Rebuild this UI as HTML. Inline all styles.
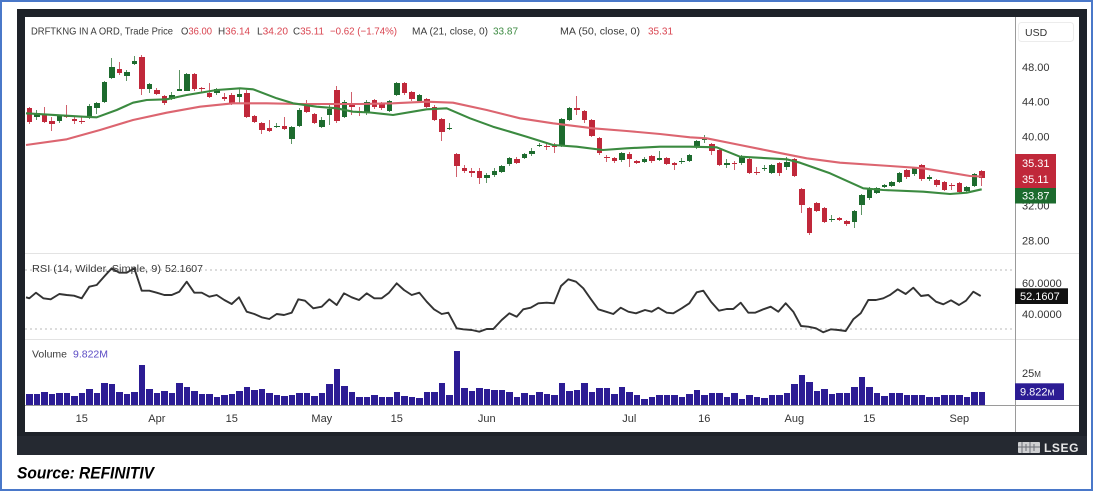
<!DOCTYPE html>
<html><head><meta charset="utf-8"><style>
body{margin:0;width:1094px;height:492px;position:relative;overflow:hidden;background:#fff;font-family:"Liberation Sans",sans-serif}
.bx{position:absolute;left:0;top:0;width:1093px;height:491px;box-sizing:border-box;border:2px solid #4a78c9}
.fr{position:absolute;left:17px;top:9px;width:1070px;height:446px;background:#1e2229}
.fr2{position:absolute;left:17px;top:436px;width:1070px;height:19px;background:#252931}
.wh{position:absolute;left:25px;top:17px;width:1054px;height:415px;background:#fff}
#cd{position:absolute;left:25.55px;top:0;display:flex;height:250px}
.c{position:relative;width:7.5px;flex:none;height:250px;display:block}
.c::before{content:"";position:absolute;left:3.15px;width:1.2px;top:calc(var(--c)*1px);height:calc((var(--d) - var(--c))*1px);background:var(--w)}
.c::after{content:"";position:absolute;left:1px;width:5.5px;top:calc(var(--a)*1px);height:max(1.4px,calc((var(--b) - var(--a))*1px));background:var(--k)}
.r{--k:#c0283a;--w:#d0606c}
.g{--k:#1d6b2e;--w:#5c9464}
#vb{position:absolute;left:25.55px;top:339px;height:66px;display:flex;align-items:flex-end}
#vb i{display:block;flex:none;width:6.5px;margin:0 .5px;background:#2c1c94}
svg{position:absolute;left:0;top:0}
</style></head><body>
<div class="bx"></div>
<div class="fr"></div>
<div class="fr2"></div>
<div class="wh"></div>
<div id="cd">
<i class="c r" style="--a:108.3;--b:121.7;--c:106.5;--d:123.5"></i>
<i class="c g" style="--a:113.3;--b:117.3;--c:110;--d:120"></i>
<i class="c r" style="--a:114;--b:121.7;--c:107;--d:123"></i>
<i class="c r" style="--a:121;--b:124;--c:117;--d:130.7"></i>
<i class="c g" style="--a:116;--b:121;--c:115;--d:123"></i>
<i class="c r" style="--a:115.3;--b:116.7;--c:105;--d:117.5"></i>
<i class="c r" style="--a:119.3;--b:120.3;--c:116;--d:124"></i>
<i class="c r" style="--a:120.7;--b:122.3;--c:117;--d:123.5"></i>
<i class="c g" style="--a:106;--b:117.3;--c:104;--d:118.7"></i>
<i class="c g" style="--a:103.3;--b:108.3;--c:101.7;--d:114"></i>
<i class="c g" style="--a:81.7;--b:101.7;--c:80.7;--d:102.7"></i>
<i class="c g" style="--a:67.3;--b:78.3;--c:58;--d:79"></i>
<i class="c r" style="--a:69.3;--b:73.3;--c:61.7;--d:75"></i>
<i class="c g" style="--a:72.3;--b:75.7;--c:70;--d:80.7"></i>
<i class="c g" style="--a:61;--b:64.3;--c:56;--d:65"></i>
<i class="c r" style="--a:56.7;--b:89.3;--c:55;--d:95"></i>
<i class="c g" style="--a:84.3;--b:89.3;--c:82.7;--d:93.3"></i>
<i class="c r" style="--a:90;--b:94;--c:88.3;--d:95"></i>
<i class="c r" style="--a:96;--b:102.7;--c:95;--d:105"></i>
<i class="c g" style="--a:95;--b:99.3;--c:91.7;--d:100"></i>
<i class="c g" style="--a:89.3;--b:90.3;--c:70;--d:90.7"></i>
<i class="c g" style="--a:74;--b:90.7;--c:73;--d:91"></i>
<i class="c r" style="--a:74;--b:89.3;--c:73.3;--d:90.7"></i>
<i class="c r" style="--a:87.7;--b:89;--c:86.7;--d:93.3"></i>
<i class="c r" style="--a:92.7;--b:97.3;--c:83.3;--d:98.3"></i>
<i class="c g" style="--a:89.3;--b:93.3;--c:87.7;--d:95"></i>
<i class="c r" style="--a:96.7;--b:98.7;--c:93.3;--d:100.7"></i>
<i class="c r" style="--a:95;--b:104;--c:93.3;--d:105"></i>
<i class="c g" style="--a:94;--b:97.3;--c:88.3;--d:104"></i>
<i class="c r" style="--a:92.7;--b:117.3;--c:90;--d:118.3"></i>
<i class="c r" style="--a:116;--b:121.7;--c:115;--d:123.3"></i>
<i class="c r" style="--a:122.7;--b:130;--c:121.7;--d:134"></i>
<i class="c r" style="--a:128.3;--b:130.7;--c:120;--d:131.7"></i>
<i class="c g" style="--a:126;--b:127;--c:122.7;--d:128.3"></i>
<i class="c r" style="--a:126;--b:129.3;--c:117.3;--d:130"></i>
<i class="c g" style="--a:127.3;--b:139;--c:126;--d:144"></i>
<i class="c g" style="--a:110;--b:126;--c:108.3;--d:126.7"></i>
<i class="c r" style="--a:105;--b:111.7;--c:100;--d:112.7"></i>
<i class="c r" style="--a:114;--b:122.7;--c:112.7;--d:124"></i>
<i class="c g" style="--a:120;--b:127.3;--c:116.7;--d:128.3"></i>
<i class="c g" style="--a:109.3;--b:115;--c:105;--d:125"></i>
<i class="c r" style="--a:90;--b:120.7;--c:86;--d:123.3"></i>
<i class="c g" style="--a:101.7;--b:117.3;--c:100;--d:118.3"></i>
<i class="c r" style="--a:103.3;--b:107.3;--c:91.7;--d:115"></i>
<i class="c r" style="--a:110.7;--b:112.7;--c:106.7;--d:116"></i>
<i class="c g" style="--a:101.7;--b:113.3;--c:100;--d:114.5"></i>
<i class="c r" style="--a:100;--b:107.3;--c:98.5;--d:108.5"></i>
<i class="c r" style="--a:104;--b:108.3;--c:102;--d:110"></i>
<i class="c g" style="--a:101;--b:110.7;--c:100;--d:112"></i>
<i class="c g" style="--a:83.3;--b:95;--c:82;--d:96"></i>
<i class="c r" style="--a:83.3;--b:93.3;--c:82;--d:94.5"></i>
<i class="c r" style="--a:91.7;--b:99.3;--c:90.5;--d:100.5"></i>
<i class="c g" style="--a:95;--b:100.7;--c:93.5;--d:102"></i>
<i class="c r" style="--a:99.3;--b:106.7;--c:98;--d:108"></i>
<i class="c r" style="--a:106.7;--b:120;--c:105;--d:121"></i>
<i class="c r" style="--a:119.3;--b:131.7;--c:118;--d:141"></i>
<i class="c g" style="--a:127.8;--b:129;--c:122.7;--d:130"></i>
<i class="c r" style="--a:154.3;--b:166;--c:153;--d:176.7"></i>
<i class="c r" style="--a:168.3;--b:170.7;--c:165;--d:173.3"></i>
<i class="c r" style="--a:171.2;--b:172.2;--c:168.3;--d:176.7"></i>
<i class="c r" style="--a:170.7;--b:178.3;--c:168;--d:184"></i>
<i class="c g" style="--a:175;--b:178.3;--c:173.3;--d:182.7"></i>
<i class="c g" style="--a:171;--b:175;--c:168.3;--d:176.7"></i>
<i class="c g" style="--a:165.7;--b:172.3;--c:164.5;--d:173.3"></i>
<i class="c g" style="--a:157.7;--b:164.3;--c:156.5;--d:165.5"></i>
<i class="c r" style="--a:158.7;--b:162.7;--c:157;--d:164"></i>
<i class="c g" style="--a:154;--b:157.7;--c:152.5;--d:159"></i>
<i class="c g" style="--a:151;--b:154.3;--c:148;--d:155.5"></i>
<i class="c g" style="--a:144.5;--b:145.5;--c:143.3;--d:147.3"></i>
<i class="c r" style="--a:145.5;--b:146.5;--c:143.3;--d:150"></i>
<i class="c r" style="--a:145.7;--b:147.3;--c:143.3;--d:153.3"></i>
<i class="c g" style="--a:119.3;--b:146;--c:118;--d:147"></i>
<i class="c g" style="--a:108.3;--b:120;--c:107;--d:121"></i>
<i class="c r" style="--a:108.3;--b:110;--c:96;--d:115"></i>
<i class="c r" style="--a:111;--b:120;--c:110;--d:123.3"></i>
<i class="c r" style="--a:120;--b:136;--c:119;--d:137.3"></i>
<i class="c r" style="--a:138.3;--b:153.3;--c:137;--d:154.5"></i>
<i class="c r" style="--a:156.8;--b:157.8;--c:155;--d:161.7"></i>
<i class="c r" style="--a:158.3;--b:161;--c:157;--d:162.5"></i>
<i class="c g" style="--a:152.7;--b:160;--c:151.5;--d:161.5"></i>
<i class="c r" style="--a:154;--b:159.3;--c:151.7;--d:166.7"></i>
<i class="c r" style="--a:161;--b:162.7;--c:159.5;--d:164"></i>
<i class="c g" style="--a:158.7;--b:161.7;--c:157;--d:163"></i>
<i class="c r" style="--a:155.7;--b:161;--c:154.5;--d:162.5"></i>
<i class="c g" style="--a:158.3;--b:160;--c:150.7;--d:161"></i>
<i class="c r" style="--a:158.3;--b:164;--c:157;--d:165"></i>
<i class="c r" style="--a:163.3;--b:165.3;--c:161.7;--d:170"></i>
<i class="c g" style="--a:160.7;--b:162;--c:158.3;--d:164"></i>
<i class="c g" style="--a:155;--b:160.7;--c:153.5;--d:162"></i>
<i class="c g" style="--a:141;--b:147;--c:139.5;--d:148.5"></i>
<i class="c g" style="--a:138.3;--b:140;--c:135;--d:143.3"></i>
<i class="c r" style="--a:144;--b:150.7;--c:142.5;--d:155"></i>
<i class="c r" style="--a:150;--b:165;--c:149;--d:166"></i>
<i class="c g" style="--a:163.3;--b:165;--c:159.3;--d:168.3"></i>
<i class="c r" style="--a:163;--b:164;--c:160.7;--d:170"></i>
<i class="c g" style="--a:156;--b:163.3;--c:154.5;--d:164.5"></i>
<i class="c r" style="--a:159.3;--b:172.7;--c:158;--d:174"></i>
<i class="c r" style="--a:171.7;--b:172.7;--c:166.7;--d:175"></i>
<i class="c g" style="--a:167.8;--b:168.8;--c:165;--d:170.5"></i>
<i class="c g" style="--a:165;--b:172.7;--c:163.5;--d:174"></i>
<i class="c r" style="--a:163.3;--b:172.7;--c:162;--d:176"></i>
<i class="c g" style="--a:161.7;--b:166.7;--c:156.7;--d:170"></i>
<i class="c r" style="--a:159.3;--b:176;--c:158;--d:177"></i>
<i class="c r" style="--a:189.3;--b:205;--c:188;--d:213"></i>
<i class="c r" style="--a:208.3;--b:233.3;--c:207;--d:234.5"></i>
<i class="c r" style="--a:203.3;--b:210.7;--c:202;--d:212"></i>
<i class="c r" style="--a:208.3;--b:221.7;--c:207;--d:223"></i>
<i class="c g" style="--a:218.5;--b:219.5;--c:215;--d:221.7"></i>
<i class="c r" style="--a:218.3;--b:220;--c:216.7;--d:221.5"></i>
<i class="c r" style="--a:220.7;--b:224.3;--c:219.5;--d:225.5"></i>
<i class="c g" style="--a:210.7;--b:221.7;--c:209.5;--d:228"></i>
<i class="c g" style="--a:195;--b:205;--c:194;--d:215"></i>
<i class="c g" style="--a:188.3;--b:198.3;--c:187;--d:199.5"></i>
<i class="c g" style="--a:187.7;--b:192.7;--c:186.5;--d:194"></i>
<i class="c g" style="--a:185;--b:186.7;--c:183.5;--d:188"></i>
<i class="c g" style="--a:181.7;--b:186;--c:180.5;--d:187"></i>
<i class="c g" style="--a:172.7;--b:181.7;--c:171.5;--d:183"></i>
<i class="c r" style="--a:170;--b:177.3;--c:168.5;--d:178.5"></i>
<i class="c g" style="--a:168.3;--b:174;--c:167;--d:175.5"></i>
<i class="c r" style="--a:165;--b:179.3;--c:164;--d:180.5"></i>
<i class="c g" style="--a:177.2;--b:178.2;--c:175;--d:180.7"></i>
<i class="c r" style="--a:180;--b:185;--c:178.5;--d:186.5"></i>
<i class="c r" style="--a:181.7;--b:190;--c:180.5;--d:191"></i>
<i class="c r" style="--a:185;--b:186;--c:183.3;--d:190"></i>
<i class="c r" style="--a:183.3;--b:191.7;--c:182;--d:193"></i>
<i class="c g" style="--a:186.7;--b:190.7;--c:185.5;--d:192"></i>
<i class="c g" style="--a:174;--b:186;--c:173;--d:187"></i>
<i class="c r" style="--a:170.8;--b:178.5;--c:169.6;--d:186.4"></i>
</div>
<div id="vb">
<i style="height:11px"></i><i style="height:11px"></i><i style="height:13.3px"></i><i style="height:11px"></i><i style="height:11.7px"></i><i style="height:11.7px"></i><i style="height:9px"></i><i style="height:12.3px"></i><i style="height:16px"></i><i style="height:11.7px"></i>
<i style="height:21.7px"></i><i style="height:20.7px"></i><i style="height:13.3px"></i><i style="height:11px"></i><i style="height:13.3px"></i><i style="height:40px"></i><i style="height:16px"></i><i style="height:11.7px"></i><i style="height:14.3px"></i><i style="height:11.7px"></i>
<i style="height:22.3px"></i><i style="height:18.3px"></i><i style="height:14.3px"></i><i style="height:11px"></i><i style="height:11px"></i><i style="height:7.7px"></i><i style="height:10px"></i><i style="height:11px"></i><i style="height:14.3px"></i><i style="height:18.3px"></i>
<i style="height:15px"></i><i style="height:16px"></i><i style="height:11.7px"></i><i style="height:10px"></i><i style="height:9.5px"></i><i style="height:10px"></i><i style="height:12.3px"></i><i style="height:12.3px"></i><i style="height:9px"></i><i style="height:12.3px"></i>
<i style="height:20.7px"></i><i style="height:35.7px"></i><i style="height:19px"></i><i style="height:13.3px"></i><i style="height:8.3px"></i><i style="height:8.3px"></i><i style="height:10px"></i><i style="height:8.3px"></i><i style="height:8.3px"></i><i style="height:12.7px"></i>
<i style="height:9px"></i><i style="height:8.3px"></i><i style="height:7.3px"></i><i style="height:12.7px"></i><i style="height:13.3px"></i><i style="height:22.3px"></i><i style="height:10px"></i><i style="height:54.3px"></i><i style="height:17.3px"></i><i style="height:14px"></i>
<i style="height:17.3px"></i><i style="height:15.7px"></i><i style="height:15px"></i><i style="height:15px"></i><i style="height:13.3px"></i><i style="height:8.3px"></i><i style="height:12.3px"></i><i style="height:10px"></i><i style="height:13.3px"></i><i style="height:11px"></i>
<i style="height:10px"></i><i style="height:22.3px"></i><i style="height:14.3px"></i><i style="height:15px"></i><i style="height:21.7px"></i><i style="height:13.3px"></i><i style="height:17.3px"></i><i style="height:16.7px"></i><i style="height:10.7px"></i><i style="height:18.3px"></i>
<i style="height:13.3px"></i><i style="height:10px"></i><i style="height:5.7px"></i><i style="height:8.3px"></i><i style="height:10px"></i><i style="height:10px"></i><i style="height:10px"></i><i style="height:8.3px"></i><i style="height:11px"></i><i style="height:15px"></i>
<i style="height:10px"></i><i style="height:11.7px"></i><i style="height:11.7px"></i><i style="height:8.3px"></i><i style="height:11.7px"></i><i style="height:5.7px"></i><i style="height:10px"></i><i style="height:8.3px"></i><i style="height:6.7px"></i><i style="height:10px"></i>
<i style="height:10px"></i><i style="height:11.7px"></i><i style="height:21px"></i><i style="height:30px"></i><i style="height:22.7px"></i><i style="height:14px"></i><i style="height:15.7px"></i><i style="height:11px"></i><i style="height:11.7px"></i><i style="height:11.7px"></i>
<i style="height:18.3px"></i><i style="height:28.3px"></i><i style="height:17.7px"></i><i style="height:12.3px"></i><i style="height:9.3px"></i><i style="height:11.7px"></i><i style="height:11.7px"></i><i style="height:10px"></i><i style="height:10px"></i><i style="height:10px"></i>
<i style="height:7.7px"></i><i style="height:8.3px"></i><i style="height:10px"></i><i style="height:10px"></i><i style="height:10px"></i><i style="height:7.7px"></i><i style="height:12.7px"></i><i style="height:12.7px"></i>
</div>
<svg width="1094" height="492" viewBox="0 0 1094 492" xmlns="http://www.w3.org/2000/svg" font-family="Liberation Sans, sans-serif">
<line x1="25" y1="253.5" x2="1079" y2="253.5" stroke="#e3e3e3" stroke-width="1"/>
<line x1="25" y1="339.5" x2="1079" y2="339.5" stroke="#e3e3e3" stroke-width="1"/>
<line x1="25" y1="405.5" x2="1079" y2="405.5" stroke="#9a9a9a" stroke-width="1"/>
<line x1="1015.5" y1="17" x2="1015.5" y2="432" stroke="#9a9a9a" stroke-width="1"/>
<line x1="25" y1="270" x2="1015" y2="270" stroke="#b8b8b8" stroke-width="1" stroke-dasharray="2 3"/>
<line x1="25" y1="329" x2="1015" y2="329" stroke="#b8b8b8" stroke-width="1" stroke-dasharray="2 3"/>
<polyline fill="none" stroke="#dc6570" stroke-width="2.1" stroke-linejoin="round" points="26,145 66.7,139.3 100,130 133,120 166.7,112.7 200,106.7 233,103.3 266.7,103.3 300,104 333,104 360,104 393,103.3 426.7,101.7 453,102.7 486.7,110 520,118.3 553,123.3 593,128.3 626.7,131 660,134 690,137.3 706.7,138.3 740,145 773.3,151.7 806.7,158.3 840,162.7 890,166 923.3,168.3 950,172.7 970,176 981.7,176.5"/>
<polyline fill="none" stroke="#3b8a40" stroke-width="2.1" stroke-linejoin="round" points="26,113.3 83,116.7 96.7,117.3 116.7,110 133,102.7 146.7,100 166.7,99.3 186.7,95 216.7,90 240,88.3 253,89.3 276.7,98.3 293,103.3 316.7,106.7 336.7,108.3 353,111.7 370,112.5 393,115 426.7,109.3 446.7,108.3 470,118.3 493,126.7 526.7,136.7 553,145 576.7,146.7 603,150 626.7,148.3 660,146.7 690,146.7 716.7,147.3 740,156.7 786.7,159.3 800,162.7 830,173.3 863.3,188.3 883.3,190 923.3,191.7 950,194 966.7,192.7 981.7,189.3"/>
<polyline fill="none" stroke="#333" stroke-width="1.9" stroke-linejoin="round" points="26,297.3 29.3,298.3 36,292.7 43.3,298.3 50.7,299.3 59.3,294 66.7,295 74,295.7 81.7,298.3 89.3,286.7 96.7,285 104,276.7 111.7,268.3 119.3,272.7 126.7,272.7 134.3,268.3 141.7,290.7 149.3,290.7 156.7,292.7 164.3,295 171.7,295 179.3,291.7 186.7,281.7 194.3,292.7 201.7,292.7 209.3,296.7 216.7,295 224.3,300 231.7,304 239,297.3 246.7,311.7 254.3,314 261.7,317.3 269.3,319 276.7,314 284,315 291.7,312.7 298.3,299.3 305,300.7 313.3,308.3 321.7,306.7 329.3,299.3 336.7,305 344,293.3 351.7,297.3 359,300 366.7,293.3 374.3,298.3 381.7,298.3 389,292.7 396.7,283.3 404,290 411.7,295 419.3,292.7 426.7,301.7 434,309.3 441.7,314 448.3,312.7 456.7,328.3 463.3,329.3 471.7,330 479.3,331.7 486.7,329 493.3,329 501.7,320 509.3,313.3 516.7,316.7 523.3,309.3 530.7,307.7 538.3,303.3 546.7,302.7 554,303.3 561,286 568.3,279.3 576,281.7 583.3,288.3 591,299.3 598.3,309.3 606,311.7 613.3,314 620.7,307.7 628.3,311.7 636,313.3 645,310 651.7,311.7 658.3,307.7 666.7,312.7 673.3,313.3 681.7,308.3 689.3,303.3 696.7,292.3 703.3,290.7 711,301.7 719,310.7 726.7,309 733.3,309 740.7,302.7 748.3,312.7 755,312.7 763.3,309.3 770.7,306.7 778.3,311.7 785.7,303.3 793.3,311.7 801,326 808.3,326.7 816,328.3 823.3,332.3 831,329.3 838.3,330 845.7,331 853.3,319.3 860.7,313.3 868.3,300 876,300 883.3,298.3 890,295 897.7,289.3 905.7,294 913.3,287.7 921,296 928.3,295 936,301.7 943.3,304.3 951,300.3 959,305 966,300.7 973.3,291.7 980.7,296"/>
<g font-size="10.5" fill="#3a3a3a">
<text x="31" y="34.5" textLength="142" lengthAdjust="spacingAndGlyphs">DRFTKNG IN A ORD, Trade Price</text>
<text x="181" y="34.5" textLength="31" lengthAdjust="spacingAndGlyphs">O<tspan fill="#d9434f">36.00</tspan></text>
<text x="218" y="34.5" textLength="32" lengthAdjust="spacingAndGlyphs">H<tspan fill="#d9434f">36.14</tspan></text>
<text x="257" y="34.5" textLength="31" lengthAdjust="spacingAndGlyphs">L<tspan fill="#d9434f">34.20</tspan></text>
<text x="293" y="34.5" textLength="31" lengthAdjust="spacingAndGlyphs">C<tspan fill="#d9434f">35.11</tspan></text>
<text x="330" y="34.5" textLength="67" lengthAdjust="spacingAndGlyphs" fill="#d9434f">−0.62 (−1.74%)</text>
<text x="412" y="34.5" textLength="76" lengthAdjust="spacingAndGlyphs">MA (21, close, 0)</text>
<text x="493" y="34.5" textLength="25" lengthAdjust="spacingAndGlyphs" fill="#3b8a40">33.87</text>
<text x="560" y="34.5" textLength="80" lengthAdjust="spacingAndGlyphs">MA (50, close, 0)</text>
<text x="648" y="34.5" textLength="25" lengthAdjust="spacingAndGlyphs" fill="#d9434f">35.31</text>
<text x="32" y="272" textLength="129" lengthAdjust="spacingAndGlyphs">RSI (14, Wilder, Simple, 9)</text>
<text x="165" y="272" textLength="38" lengthAdjust="spacingAndGlyphs">52.1607</text>
<text x="32" y="357.6" textLength="35" lengthAdjust="spacingAndGlyphs">Volume</text>
<text x="73" y="357.6" textLength="35" lengthAdjust="spacingAndGlyphs" fill="#5b4bc4">9.822M</text>
</g>
<g font-size="11" fill="#333" text-anchor="middle">
<text x="81.8" y="422">15</text>
<text x="156.8" y="422">Apr</text>
<text x="231.8" y="422">15</text>
<text x="321.8" y="422">May</text>
<text x="396.8" y="422">15</text>
<text x="486.8" y="422">Jun</text>
<text x="629.3" y="422">Jul</text>
<text x="704.3" y="422">16</text>
<text x="794.3" y="422">Aug</text>
<text x="869.3" y="422">15</text>
<text x="959.3" y="422">Sep</text>
</g>
<rect x="1018.5" y="22.5" width="55" height="19" rx="3" fill="#fff" stroke="#ececec"/>
<text x="1025" y="36" font-size="10.5" fill="#333">USD</text>
<g font-size="11" fill="#333">
<text x="1022" y="71">48.00</text>
<text x="1022" y="105.5">44.00</text>
<text x="1022" y="140.3">40.00</text>
<text x="1022" y="209.6">32.00</text>
<text x="1022" y="244.3">28.00</text>
<text x="1022" y="287">60.0000</text>
<text x="1022" y="318">40.0000</text>
<text x="1022" y="377">25<tspan font-size="8">M</tspan></text>
</g>
<rect x="1015" y="154" width="41" height="34" fill="#c0283a"/>
<rect x="1015" y="188" width="41" height="15.5" fill="#1d6b2e"/>
<rect x="1015" y="288.3" width="53" height="15.7" fill="#111"/>
<rect x="1015" y="383.3" width="49" height="16.7" fill="#2c1c94"/>
<g font-size="11" fill="#fff">
<text x="1022" y="167">35.31</text>
<text x="1022" y="183">35.11</text>
<text x="1022" y="199.5">33.87</text>
<text x="1020" y="300">52.1607</text>
<text x="1020" y="395.5">9.822<tspan font-size="8.5">M</tspan></text>
</g>
<rect x="1018" y="442" width="22" height="11" rx="1" fill="#cfd0d2"/>
<path d="M1022 442v11M1026 444v7M1030 442v11M1034 444v7M1018 447h22" stroke="#6d7078" stroke-width="1"/>
<text x="1044" y="452" font-size="12" font-weight="bold" fill="#e8e8e8" letter-spacing="0.6">LSEG</text>
<text x="17" y="478.3" font-size="17" font-weight="bold" font-style="italic" fill="#000" textLength="137" lengthAdjust="spacingAndGlyphs">Source: REFINITIV</text>
</svg>
</body></html>
